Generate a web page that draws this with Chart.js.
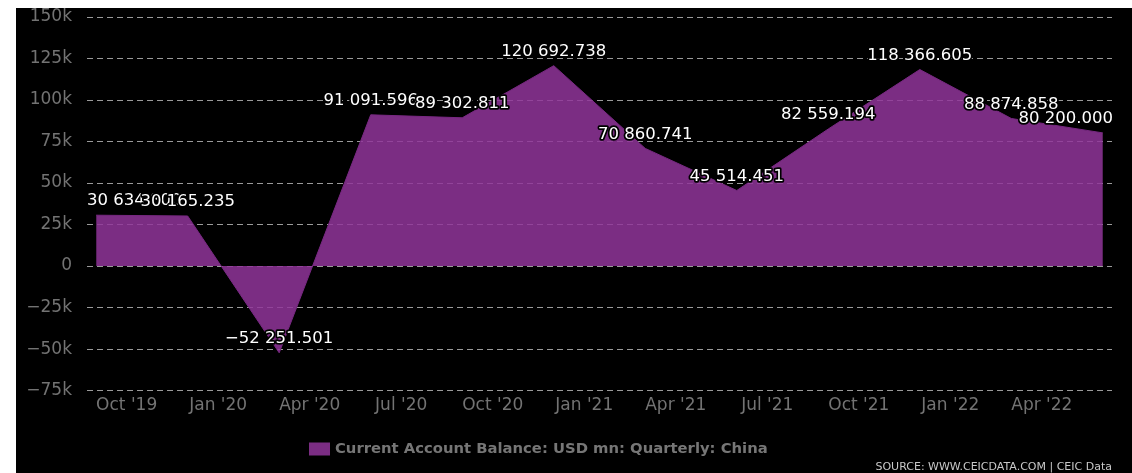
<!DOCTYPE html>
<html>
<head>
<meta charset="utf-8">
<script src="https://cdn.jsdelivr.net/npm/chart.js@4/dist/chart.umd.min.js"></script>
<style>
  body { margin: 0; background: #fff; }
  #wrap { position: absolute; left: 16px; top: 8px; width: 1116px; height: 465px; background: #000; }
</style>
</head>
<body>
<div id="wrap"><canvas id="myChart"></canvas></div>
<script>
  // quarterly observations, dated at the last month of each quarter
  const periods = ['2019-09', '2019-12', '2020-03', '2020-06', '2020-09', '2020-12',
                   '2021-03', '2021-06', '2021-09', '2021-12', '2022-03', '2022-06'];
  const values = [30634.800, 30165.235, -52251.501, 91091.596, 89302.811, 120692.738,
                  70860.741, 45514.451, 82559.194, 118366.605, 88874.858, 80200.000];
  const tickLabels = ["Oct '19", "Jan '20", "Apr '20", "Jul '20", "Oct '20", "Jan '21",
                      "Apr '21", "Jul '21", "Oct '21", "Jan '22", "Apr '22"];
  const seriesName = 'Current Account Balance: USD mn: Quarterly: China';
  const sourceText = 'SOURCE: WWW.CEICDATA.COM | CEIC Data';

  const monthNames = ['Jan','Feb','Mar','Apr','May','Jun','Jul','Aug','Sep','Oct','Nov','Dec'];
  // months counted from Oct 2019
  function monthIndex(year, month) { return (year - 2019) * 12 + (month - 10); }
  function periodToX(p) { const [y, m] = p.split('-'); return monthIndex(+y, +m); }
  function tickToX(l) {
    const m = monthNames.indexOf(l.slice(0, 3)) + 1;
    return monthIndex(2000 + parseInt(l.split("'")[1], 10), m);
  }
  const tickValues = tickLabels.map(tickToX);

  function fmt(v) {
    const parts = Math.abs(v).toFixed(3).split('.');
    const int = parts[0].replace(/\B(?=(\d{3})+(?!\d))/g, ' ');
    return (v < 0 ? '\u2212' : '') + int + '.' + parts[1];
  }

  const purple = 'rgba(145, 53, 154, 0.85)';

  const valueLabels = {
    id: 'valueLabels',
    afterDatasetsDraw(chart) {
      const ctx = chart.ctx, area = chart.chartArea;
      const meta = chart.getDatasetMeta(0);
      ctx.save();
      ctx.font = '16.5px "DejaVu Sans"';
      ctx.textAlign = 'left';
      ctx.textBaseline = 'middle';
      ctx.lineJoin = 'round';
      ctx.lineWidth = 3.5;
      ctx.strokeStyle = '#000';
      ctx.fillStyle = '#fff';
      meta.data.forEach((pt, i) => {
        const txt = fmt(values[i]);
        const w = ctx.measureText(txt).width;
        let x = pt.x - w / 2;
        x = Math.max(area.left, Math.min(x, area.right + 1 - w));
        const y = pt.y - 14;
        ctx.strokeText(txt, x, y);
        ctx.fillText(txt, x, y);
      });
      ctx.restore();
    }
  };

  const footer = {
    id: 'footer',
    afterDraw(chart) {
      const ctx = chart.ctx;
      ctx.save();
      // legend
      const lx = 293, ly = 441;
      ctx.fillStyle = purple;
      ctx.fillRect(lx, ly - 6.5, 21, 13);
      ctx.font = 'bold 14.8px "DejaVu Sans"';
      ctx.fillStyle = '#767676';
      ctx.textBaseline = 'middle';
      ctx.textAlign = 'left';
      ctx.fillText(seriesName, lx + 26, ly);
      // source
      ctx.font = '11px "DejaVu Sans"';
      ctx.fillStyle = '#c8c8c8';
      ctx.textAlign = 'right';
      ctx.fillText(sourceText, chart.chartArea.right, 459);
      ctx.restore();
    }
  };

  const data = {
    datasets: [{
      label: seriesName,
      data: periods.map((p, i) => ({ x: periodToX(p), y: values[i] })),
      backgroundColor: purple,
      borderColor: 'rgba(120, 40, 130, 1)',
      borderWidth: 1,
      pointRadius: 0,
      tension: 0,
      fill: 'origin'
    }]
  };

  const config = {
    type: 'line',
    data,
    options: {
      responsive: true,
      maintainAspectRatio: false,
      animation: false,
      layout: { padding: { top: 9, right: 20, bottom: 52, left: 0 } },
      plugins: {
        legend: { display: false },
        tooltip: { enabled: false }
      },
      scales: {
        x: {
          type: 'linear',
          min: -1.3,
          max: 32.3,
          afterBuildTicks(scale) { scale.ticks = tickValues.map(v => ({ value: v })); },
          ticks: {
            autoSkip: false,
            maxRotation: 0,
            padding: 5,
            color: '#737373',
            font: { family: 'DejaVu Sans', size: 17 },
            callback: (v) => tickLabels[tickValues.indexOf(v)]
          },
          grid: { display: false, drawTicks: false },
          border: { display: false }
        },
        y: {
          min: -75000,
          max: 150000,
          afterFit(scale) {
            scale.width = 71;
            scale.paddingTop = 0;
            scale.paddingBottom = 0;
          },
          ticks: {
            stepSize: 25000,
            padding: 15,
            color: '#737373',
            font: { family: 'DejaVu Sans', size: 17 },
            callback: (v) => v === 0 ? '0' : (v < 0 ? '\u2212' : '') + Math.abs(v) / 1000 + 'k'
          },
          grid: { color: '#9a9a9a', drawTicks: false, lineWidth: 1 },
          border: { display: false, dash: [6, 4] }
        }
      }
    },
    plugins: [valueLabels, footer]
  };

  const myChart = new Chart(document.getElementById('myChart'), config);
</script>
</body>
</html>
